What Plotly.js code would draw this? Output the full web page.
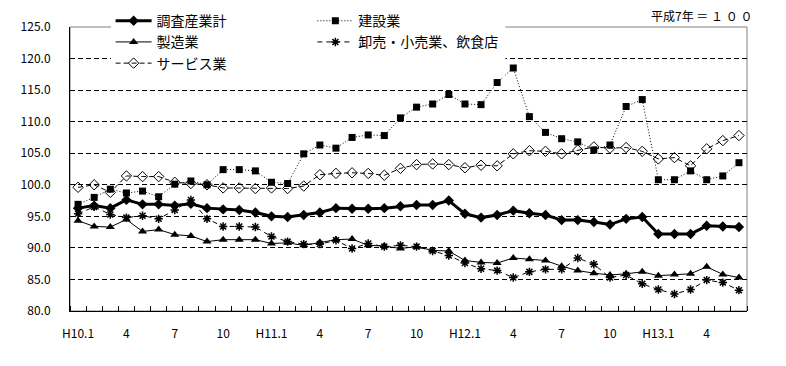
<!DOCTYPE html>
<html>
<head>
<meta charset="utf-8">
<script src="https://cdn.plot.ly/plotly-3.0.1.min.js"></script>
<style>
html,body{margin:0;padding:0;background:#fff;}
#chart{width:786px;height:366px;}
</style>
</head>
<body>
<div id="chart"></div>
<script>
// Months H10.1 .. H13.6
const categories = [
  "H10.1","H10.2","H10.3","H10.4","H10.5","H10.6","H10.7","H10.8","H10.9","H10.10","H10.11","H10.12",
  "H11.1","H11.2","H11.3","H11.4","H11.5","H11.6","H11.7","H11.8","H11.9","H11.10","H11.11","H11.12",
  "H12.1","H12.2","H12.3","H12.4","H12.5","H12.6","H12.7","H12.8","H12.9","H12.10","H12.11","H12.12",
  "H13.1","H13.2","H13.3","H13.4","H13.5","H13.6"
];
const tickLabels = [
  "H10.1","","","4","","","7","","","10","","",
  "H11.1","","","4","","","7","","","10","","",
  "H12.1","","","4","","","7","","","10","","",
  "H13.1","","","4","",""
];
const total = [
  96.3,96.7,96.3,97.6,96.9,96.9,96.7,97.0,96.3,96.1,96.0,95.6,
  95.0,94.9,95.2,95.6,96.3,96.2,96.2,96.3,96.6,96.8,96.8,97.5,
  95.4,94.8,95.2,95.9,95.5,95.2,94.4,94.4,94.1,93.7,94.6,94.9,
  92.2,92.2,92.2,93.5,93.4,93.3
];
const construction = [
  96.9,98.0,99.3,98.7,99.0,98.1,100.1,100.6,100.0,102.4,102.4,102.2,
  100.4,100.2,104.9,106.3,105.8,107.5,107.9,107.8,110.6,112.3,112.8,114.3,
  112.8,112.7,116.2,118.5,110.8,108.3,107.3,106.8,105.5,106.3,112.4,113.5,
  100.8,100.8,102.2,100.8,101.4,103.5
];
const manufacturing = [
  94.3,93.4,93.3,94.5,92.6,92.9,92.1,91.9,91.0,91.3,91.3,91.3,
  90.7,90.8,90.4,90.9,91.3,91.4,90.4,90.3,89.9,90.2,89.6,89.5,
  88.0,87.7,87.6,88.4,88.2,88.0,87.1,86.4,86.0,85.7,85.9,86.2,
  85.6,85.8,85.9,87.0,85.8,85.3
];
const wholesale = [
  95.4,96.5,95.3,94.8,95.1,94.6,96.0,97.6,94.6,93.4,93.4,93.3,
  91.8,91.0,90.6,90.6,91.2,89.9,90.7,90.2,90.4,90.2,89.5,88.8,
  87.6,86.7,86.4,85.3,86.2,86.6,86.6,88.4,87.4,85.3,85.7,84.3,
  83.4,82.7,83.4,84.9,84.5,83.3
];
const services = [
  99.6,100.0,98.8,101.4,101.3,101.3,100.4,100.2,100.0,99.5,99.5,99.4,
  99.5,99.4,99.8,101.6,101.8,101.9,101.8,101.5,102.6,103.2,103.3,103.2,
  102.7,103.1,103.0,104.9,105.4,105.3,104.9,105.5,106.0,105.8,105.9,105.3,
  104.1,104.3,103.0,105.7,107.0,107.8
];
const names = ["調査産業計","建設業","製造業","卸売・小売業、飲食店","サービス業"];
const FONT = "'Noto Sans CJK JP', 'Noto Sans', sans-serif";

// position of each month on the linear x axis
const xIdx = categories.map((_, i) => i);
const labelIdx = xIdx.filter(i => tickLabels[i] !== "");
const labelText = labelIdx.map(i => tickLabels[i]);

const traces = [
  {x: xIdx, y: total, name: names[0], legend: "legend", legendgroup: "a",
   mode: "lines+markers", line: {color: "#000", width: 3},
   marker: {symbol: "diamond", size: 8, color: "#000"}},
  {x: xIdx, y: manufacturing, name: names[2], legend: "legend", legendgroup: "c",
   mode: "lines+markers", line: {color: "#000", width: 1},
   marker: {symbol: "triangle-up", size: 8, color: "#000"}},
  {x: xIdx, y: services, name: names[4], legend: "legend", legendgroup: "e",
   mode: "lines+markers", line: {color: "#000", width: 1, dash: "5px,3px"},
   marker: {symbol: "diamond-open", size: 8, color: "#000", line: {width: 1, color: "#000"}}},
  {x: xIdx, y: construction, name: names[1], legend: "legend2", legendgroup: "b",
   mode: "lines+markers", line: {color: "#000", width: 1, dash: "1px,2px"},
   marker: {symbol: "square", size: 7, color: "#000"}},
  {x: xIdx, y: wholesale, name: names[3], legend: "legend2", legendgroup: "d",
   mode: "lines+markers", line: {color: "#000", width: 1, dash: "5px,4px"},
   marker: {symbol: "asterisk-open", size: 7, color: "#000", line: {width: 1.5, color: "#000"}}}
];

const legendCommon = {
  orientation: "v", bgcolor: "#fff", borderwidth: 0,
  font: {family: FONT, size: 14, color: "#000"},
  xanchor: "left", yanchor: "top", tracegroupgap: 0, itemwidth: 36,
  itemclick: false
};

const layout = {
  width: 786, height: 366,
  margin: {l: 70, r: 39, t: 27, b: 55, autoexpand: false},
  paper_bgcolor: "#fff", plot_bgcolor: "#fff",
  font: {family: FONT, size: 12, color: "#000"},
  showlegend: true,
  legend: Object.assign({}, legendCommon, {x: 0.06, y: 1.077}),
  legend2: Object.assign({}, legendCommon, {x: 0.358, y: 1.077}),
  xaxis: {
    range: [-0.5, categories.length - 0.5],
    tickmode: "array", tickvals: labelIdx, ticktext: labelText, tickangle: 0,
    ticks: "",
    minor: {tickmode: "linear", tick0: -0.5, dtick: 1, ticks: "inside", ticklen: 5,
            tickcolor: "#000", tickwidth: 1, showgrid: false},
    showline: true, linecolor: "#000", linewidth: 1,
    showgrid: false, zeroline: false,
    tickfont: {family: FONT, size: 12, color: "#000"},
    ticklabelstandoff: 12,
    fixedrange: true
  },
  yaxis: {
    range: [80, 125], dtick: 5, tick0: 80, tickformat: ".1f",
    ticks: "", showline: true, linecolor: "#000", linewidth: 1,
    showgrid: true, gridcolor: "#000", gridwidth: 1, griddash: "5px,3px",
    zeroline: false,
    tickfont: {family: FONT, size: 12, color: "#000"},
    ticklabelstandoff: 16,
    fixedrange: true
  },
  shapes: [
    {type: "rect", xref: "paper", yref: "paper", x0: 0, x1: 1, y0: 0, y1: 1,
     line: {color: "#808080", width: 1}, layer: "below"},
    // white backing behind the legend block (hides grid / frame there, like the original)
    {type: "rect", xref: "paper", yref: "paper", x0: 0.064, x1: 0.643, y0: 0.82, y1: 1.01,
     line: {width: 0}, fillcolor: "#fff", layer: "above"}
  ],
  annotations: [
    {xref: "paper", yref: "paper", x: 1.01, y: 1.042, xanchor: "right", yanchor: "middle",
     text: "平成7年&nbsp;＝&nbsp;１&nbsp;０&nbsp;０", showarrow: false,
     font: {family: FONT, size: 12, color: "#000"}}
  ]
};

Plotly.newPlot("chart", traces, layout, {displayModeBar: false, staticPlot: true});
</script>
</body>
</html>
